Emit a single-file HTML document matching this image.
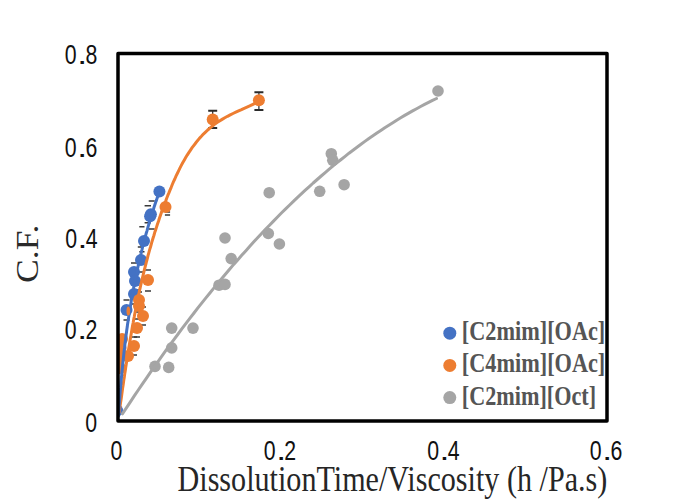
<!DOCTYPE html>
<html><head><meta charset="utf-8"><style>
html,body{margin:0;padding:0;background:#fff;}
body{width:685px;height:503px;overflow:hidden;}
svg{display:block;}
.tk{font-family:"Liberation Sans",sans-serif;font-size:27.3px;fill:#111;}
.lg{font-family:"Liberation Serif",serif;font-weight:bold;font-size:27px;fill:#555;}
.ax{font-family:"Liberation Serif",serif;font-size:35px;fill:#262626;}
</style></head><body>
<svg width="685" height="503" viewBox="0 0 685 503">
<rect width="685" height="503" fill="#fff"/>
<defs><clipPath id="pc"><rect x="118" y="53.5" width="489" height="367.5"/></clipPath></defs>
<g clip-path="url(#pc)">
<path d="M254.4 92.3 H263.4 M254.4 110.1 H263.4" stroke="#2a2a2a" stroke-width="2" fill="none"/><path d="M258.9 92.3 V110.1" stroke="#2a2a2a" stroke-width="1.2" fill="none"/>
<path d="M208.2 110.7 H217.2 M208.2 128.0 H217.2" stroke="#2a2a2a" stroke-width="2" fill="none"/><path d="M212.7 110.7 V128.0" stroke="#2a2a2a" stroke-width="1.2" fill="none"/>
<path d="M148.7 201.0 H154.7 M148.7 229.0 H154.7" stroke="#3a3a3a" stroke-width="1.5" fill="none"/>
<path d="M144.6 205.7 H151.0 M144.6 222.7 H151.0" stroke="#3a3a3a" stroke-width="1.5" fill="none"/>
<path d="M139.3 226.8 H144.5 M139.3 251.8 H144.5" stroke="#3a3a3a" stroke-width="1.5" fill="none"/>
<path d="M164.9 212.0 H170.1 M164.9 215.0 H170.1" stroke="#3a3a3a" stroke-width="1.5" fill="none"/>
<path d="M137.8 247.0 H143.8 M137.8 272.0 H143.8" stroke="#3a3a3a" stroke-width="1.5" fill="none"/>
<path d="M131.0 263.0 H137.0 M131.0 284.0 H137.0" stroke="#3a3a3a" stroke-width="1.5" fill="none"/>
<path d="M133.0 270.0 H139.0 M133.0 290.0 H139.0" stroke="#3a3a3a" stroke-width="1.5" fill="none"/>
<path d="M145.0 270.0 H151.0 M145.0 291.0 H151.0" stroke="#3a3a3a" stroke-width="1.5" fill="none"/>
<path d="M131.0 284.0 H137.0 M131.0 304.0 H137.0" stroke="#3a3a3a" stroke-width="1.5" fill="none"/>
<path d="M123.5 300.0 H129.5 M123.5 320.0 H129.5" stroke="#3a3a3a" stroke-width="1.5" fill="none"/>
<path d="M136.0 292.0 H142.0 M136.0 312.0 H142.0" stroke="#3a3a3a" stroke-width="1.5" fill="none"/>
<path d="M140.0 307.0 H146.0 M140.0 325.0 H146.0" stroke="#3a3a3a" stroke-width="1.5" fill="none"/>
<path d="M134.0 319.0 H140.0 M134.0 337.0 H140.0" stroke="#3a3a3a" stroke-width="1.5" fill="none"/>
<path d="M131.0 337.0 H137.0 M131.0 355.0 H137.0" stroke="#3a3a3a" stroke-width="1.5" fill="none"/>
<circle cx="159.4" cy="191.4" r="6" fill="#4472C4"/>
<circle cx="150.9" cy="214.3" r="6" fill="#4472C4"/>
<circle cx="150.1" cy="216.2" r="6" fill="#4472C4"/>
<circle cx="144.0" cy="241.0" r="6" fill="#4472C4"/>
<circle cx="141.0" cy="260.0" r="6" fill="#4472C4"/>
<circle cx="134.0" cy="272.0" r="6" fill="#4472C4"/>
<circle cx="135.0" cy="281.0" r="6" fill="#4472C4"/>
<circle cx="134.0" cy="294.0" r="6" fill="#4472C4"/>
<circle cx="126.5" cy="310.0" r="6" fill="#4472C4"/>
<circle cx="114.5" cy="346.0" r="6" fill="#4472C4"/>
<circle cx="114.5" cy="354.0" r="6" fill="#4472C4"/>
<circle cx="117.2" cy="410.5" r="6" fill="#4472C4"/>
<circle cx="258.9" cy="100.3" r="6" fill="#ED7D31"/>
<circle cx="212.7" cy="119.5" r="6" fill="#ED7D31"/>
<circle cx="165.5" cy="207.0" r="6" fill="#ED7D31"/>
<circle cx="148.0" cy="280.0" r="6" fill="#ED7D31"/>
<circle cx="139.0" cy="300.0" r="6" fill="#ED7D31"/>
<circle cx="139.0" cy="306.0" r="6" fill="#ED7D31"/>
<circle cx="143.0" cy="316.0" r="6" fill="#ED7D31"/>
<circle cx="137.0" cy="328.0" r="6" fill="#ED7D31"/>
<circle cx="122.0" cy="339.0" r="6" fill="#ED7D31"/>
<circle cx="134.0" cy="346.0" r="6" fill="#ED7D31"/>
<circle cx="128.0" cy="356.0" r="6" fill="#ED7D31"/>
<circle cx="120.0" cy="368.0" r="6" fill="#ED7D31"/>
<circle cx="119.6" cy="358.0" r="6" fill="#ED7D31"/>
<circle cx="120.6" cy="348.0" r="6" fill="#ED7D31"/>
<circle cx="438.0" cy="91.0" r="5.8" fill="#A5A5A5"/>
<circle cx="331.3" cy="153.7" r="5.8" fill="#A5A5A5"/>
<circle cx="332.8" cy="160.3" r="5.8" fill="#A5A5A5"/>
<circle cx="319.7" cy="191.3" r="5.8" fill="#A5A5A5"/>
<circle cx="344.1" cy="184.7" r="5.8" fill="#A5A5A5"/>
<circle cx="269.2" cy="192.7" r="5.8" fill="#A5A5A5"/>
<circle cx="268.3" cy="233.5" r="5.8" fill="#A5A5A5"/>
<circle cx="279.4" cy="244.0" r="5.8" fill="#A5A5A5"/>
<circle cx="225.0" cy="238.0" r="5.8" fill="#A5A5A5"/>
<circle cx="231.2" cy="258.6" r="5.8" fill="#A5A5A5"/>
<circle cx="219.0" cy="285.2" r="5.8" fill="#A5A5A5"/>
<circle cx="225.0" cy="284.4" r="5.8" fill="#A5A5A5"/>
<circle cx="171.7" cy="328.1" r="5.8" fill="#A5A5A5"/>
<circle cx="193.0" cy="328.1" r="5.8" fill="#A5A5A5"/>
<circle cx="171.7" cy="347.9" r="5.8" fill="#A5A5A5"/>
<circle cx="155.0" cy="366.4" r="5.8" fill="#A5A5A5"/>
<circle cx="168.7" cy="367.4" r="5.8" fill="#A5A5A5"/>
<path d="M122.4 413.8 L126.4 407.8 L130.4 401.8 L134.3 395.9 L138.3 390.0 L142.3 384.1 L146.3 378.3 L150.2 372.6 L154.2 366.9 L158.2 361.3 L162.2 355.7 L166.1 350.2 L170.1 344.7 L174.1 339.3 L178.1 334.0 L182.0 328.7 L186.0 323.4 L190.0 318.2 L194.0 313.0 L197.9 307.9 L201.9 302.9 L205.9 297.9 L209.9 293.0 L213.8 288.1 L217.8 283.2 L221.8 278.5 L225.8 273.7 L229.8 269.0 L233.7 264.4 L237.7 259.9 L241.7 255.3 L245.7 250.9 L249.6 246.5 L253.6 242.1 L257.6 237.8 L261.6 233.5 L265.5 229.3 L269.5 225.2 L273.5 221.1 L277.5 217.0 L281.4 213.0 L285.4 209.1 L289.4 205.2 L293.4 201.4 L297.3 197.6 L301.3 193.9 L305.3 190.2 L309.3 186.6 L313.2 183.0 L317.2 179.5 L321.2 176.0 L325.2 172.6 L329.2 169.2 L333.1 165.9 L337.1 162.7 L341.1 159.5 L345.1 156.3 L349.0 153.2 L353.0 150.2 L357.0 147.2 L361.0 144.3 L364.9 141.4 L368.9 138.5 L372.9 135.8 L376.9 133.0 L380.8 130.4 L384.8 127.7 L388.8 125.2 L392.8 122.7 L396.7 120.2 L400.7 117.8 L404.7 115.4 L408.7 113.1 L412.6 110.9 L416.6 108.7 L420.6 106.5 L424.6 104.4 L428.6 102.4 L432.5 100.4 L436.5 98.5" fill="none" stroke="#A5A5A5" stroke-width="3" stroke-linecap="round" stroke-linejoin="round"/>
<path d="M119.3 412.0 L119.7 409.0 L120.1 406.0 L120.5 403.1 L121.0 400.1 L121.4 397.2 L121.8 394.2 L122.2 391.2 L122.6 388.3 L123.1 385.3 L123.5 382.3 L123.9 379.4 L124.4 376.4 L124.8 373.4 L125.3 370.5 L125.7 367.5 L126.2 364.5 L126.6 361.6 L127.1 358.6 L127.5 355.6 L128.0 352.7 L128.5 349.7 L129.0 346.7 L129.5 343.8 L130.0 340.8 L130.5 337.8 L131.0 334.9 L131.5 331.9 L132.0 329.0 L132.5 326.0 L133.1 323.1 L133.6 320.1 L134.2 317.1 L134.7 314.2 L135.3 311.2 L135.9 308.3 L136.5 305.4 L137.1 302.4 L137.7 299.5 L138.3 296.5 L138.9 293.6 L139.5 290.7 L140.2 287.7 L140.8 284.8 L141.5 281.9 L142.2 278.9 L142.9 276.0 L143.6 273.1 L144.3 270.2 L145.0 267.3 L145.8 264.4 L146.5 261.5 L147.3 258.6 L148.0 255.7 L148.8 252.8 L149.6 249.9 L150.5 247.0 L151.3 244.1 L152.1 241.2 L153.0 238.3 L153.9 235.5 L154.7 232.6 L155.7 229.7 L156.6 226.9 L157.5 224.0 L158.5 221.2 L159.4 218.3 L160.4 215.5 L161.4 212.6 L162.4 209.8 L163.4 207.0 L164.5 204.1 L165.6 201.3 L166.6 198.5 L167.7 195.7 L168.9 192.9 L170.0 190.1 L171.2 187.3 L172.3 184.5 L173.5 181.7 L174.8 179.0 L176.0 176.2 L177.3 173.5 L178.6 170.8 L179.9 168.1 L181.3 165.4 L182.7 162.8 L184.2 160.2 L185.7 157.6 L187.2 155.1 L188.8 152.6 L190.5 150.1 L192.1 147.7 L193.9 145.3 L195.7 143.0 L197.5 140.7 L199.4 138.4 L201.4 136.3 L203.4 134.1 L205.5 132.1 L207.7 130.0 L209.9 128.1 L212.2 126.2 L214.5 124.4 L217.0 122.6 L219.5 121.0 L222.1 119.4 L224.8 117.8 L227.5 116.3 L230.2 114.9 L233.0 113.5 L235.8 112.2 L238.6 110.9 L241.5 109.6 L244.2 108.3 L247.0 107.1 L249.7 105.9 L252.4 104.6 L255.0 103.4 L257.5 102.1" fill="none" stroke="#ED7D31" stroke-width="3" stroke-linecap="round" stroke-linejoin="round"/>
<path d="M118.5 416.0 L118.6 414.1 L118.7 412.2 L118.9 410.3 L119.0 408.4 L119.1 406.4 L119.2 404.5 L119.4 402.6 L119.5 400.7 L119.7 398.8 L119.8 396.9 L119.9 395.0 L120.1 393.1 L120.2 391.2 L120.4 389.3 L120.6 387.4 L120.7 385.5 L120.9 383.6 L121.0 381.7 L121.2 379.8 L121.4 377.9 L121.6 376.0 L121.7 374.1 L121.9 372.2 L122.1 370.3 L122.3 368.4 L122.5 366.5 L122.7 364.6 L122.9 362.7 L123.1 360.8 L123.3 358.9 L123.5 357.0 L123.7 355.1 L123.9 353.2 L124.1 351.3 L124.3 349.4 L124.6 347.5 L124.8 345.6 L125.0 343.7 L125.3 341.8 L125.5 339.9 L125.7 338.0 L126.0 336.1 L126.2 334.2 L126.5 332.3 L126.7 330.4 L127.0 328.5 L127.3 326.6 L127.5 324.7 L127.8 322.8 L128.1 320.9 L128.4 319.0 L128.7 317.1 L129.0 315.2 L129.3 313.3 L129.5 311.4 L129.9 309.5 L130.2 307.7 L130.5 305.8 L130.8 303.9 L131.1 302.0 L131.4 300.1 L131.8 298.2 L132.1 296.3 L132.4 294.4 L132.8 292.6 L133.1 290.7 L133.5 288.8 L133.8 286.9 L134.2 285.0 L134.6 283.2 L134.9 281.3 L135.3 279.4 L135.7 277.5 L136.1 275.7 L136.5 273.8 L136.8 271.9 L137.2 270.1 L137.7 268.2 L138.1 266.3 L138.5 264.5 L138.9 262.6 L139.3 260.7 L139.8 258.9 L140.2 257.0 L140.6 255.1 L141.1 253.3 L141.5 251.4 L142.0 249.6 L142.4 247.7 L142.9 245.9 L143.4 244.0 L143.9 242.2 L144.4 240.3 L144.8 238.5 L145.3 236.6 L145.8 234.8 L146.3 233.0 L146.9 231.1 L147.4 229.3 L147.9 227.4 L148.4 225.6 L149.0 223.8 L149.5 221.9 L150.0 220.1 L150.6 218.3 L151.2 216.5 L151.7 214.6 L152.3 212.8 L152.9 211.0 L153.5 209.2 L154.0 207.4 L154.6 205.5 L155.2 203.7 L155.8 201.9 L156.5 200.1 L157.1 198.3 L157.7 196.5 L158.3 194.7 L159.0 192.9" fill="none" stroke="#4472C4" stroke-width="3" stroke-linecap="round" stroke-linejoin="round"/>
<ellipse cx="128.3" cy="311" rx="1.8" ry="4.5" fill="#ED7D31"/>
</g>
<rect x="118" y="53.5" width="489" height="367.5" fill="none" stroke="#000" stroke-width="3.5" stroke-linejoin="round"/>
<text transform="translate(70.70,64.40) scale(0.78,1)" text-anchor="middle" class="tk">0</text><text transform="translate(82.15,64.40) scale(1.30,1)" text-anchor="middle" class="tk">.</text><text transform="translate(91.30,64.40) scale(0.78,1)" text-anchor="middle" class="tk">8</text>
<text transform="translate(70.70,156.70) scale(0.78,1)" text-anchor="middle" class="tk">0</text><text transform="translate(82.15,156.70) scale(1.30,1)" text-anchor="middle" class="tk">.</text><text transform="translate(91.30,156.70) scale(0.78,1)" text-anchor="middle" class="tk">6</text>
<text transform="translate(71.05,248.30) scale(0.78,1)" text-anchor="middle" class="tk">0</text><text transform="translate(82.50,248.30) scale(1.30,1)" text-anchor="middle" class="tk">.</text><text transform="translate(91.65,248.30) scale(0.78,1)" text-anchor="middle" class="tk">4</text>
<text transform="translate(70.70,339.30) scale(0.78,1)" text-anchor="middle" class="tk">0</text><text transform="translate(82.15,339.30) scale(1.30,1)" text-anchor="middle" class="tk">.</text><text transform="translate(91.30,339.30) scale(0.78,1)" text-anchor="middle" class="tk">2</text>
<text transform="translate(91.20,431.70) scale(0.78,1)" text-anchor="middle" class="tk">0</text>
<text transform="translate(116.45,459.60) scale(0.78,1)" text-anchor="middle" class="tk">0</text>
<text transform="translate(269.60,459.60) scale(0.78,1)" text-anchor="middle" class="tk">0</text><text transform="translate(281.05,459.60) scale(1.30,1)" text-anchor="middle" class="tk">.</text><text transform="translate(290.20,459.60) scale(0.78,1)" text-anchor="middle" class="tk">2</text>
<text transform="translate(433.05,459.60) scale(0.78,1)" text-anchor="middle" class="tk">0</text><text transform="translate(444.50,459.60) scale(1.30,1)" text-anchor="middle" class="tk">.</text><text transform="translate(453.65,459.60) scale(0.78,1)" text-anchor="middle" class="tk">4</text>
<text transform="translate(595.70,459.60) scale(0.78,1)" text-anchor="middle" class="tk">0</text><text transform="translate(607.15,459.60) scale(1.30,1)" text-anchor="middle" class="tk">.</text><text transform="translate(616.30,459.60) scale(0.78,1)" text-anchor="middle" class="tk">6</text>
<circle cx="449.8" cy="333.2" r="6.5" fill="#4472C4"/>
<text x="461.8" y="340.2" textLength="143.5" lengthAdjust="spacingAndGlyphs" class="lg">[C2mim][OAc]</text>
<circle cx="449.8" cy="365.4" r="6.5" fill="#ED7D31"/>
<text x="461.8" y="372.4" textLength="143.5" lengthAdjust="spacingAndGlyphs" class="lg">[C4mim][OAc]</text>
<circle cx="449.8" cy="397.6" r="6.5" fill="#A5A5A5"/>
<text x="461.8" y="404.6" textLength="134.3" lengthAdjust="spacingAndGlyphs" class="lg">[C2mim][Oct]</text>
<text x="177.5" y="490.5" textLength="429.8" lengthAdjust="spacingAndGlyphs" class="ax" >DissolutionTime/Viscosity (h /Pa.s)</text>
<text transform="translate(37.6,283) rotate(-90)" textLength="58.5" lengthAdjust="spacingAndGlyphs" class="ax" style="font-size:31.5px;fill:#2a2a2a">C.F.</text>
</svg>
</body></html>
